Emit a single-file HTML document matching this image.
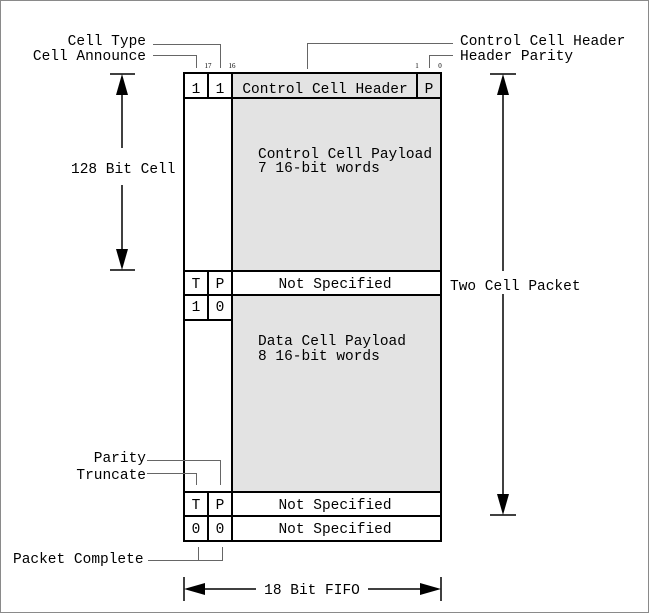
<!DOCTYPE html>
<html>
<head>
<meta charset="utf-8">
<style>
html,body{margin:0;padding:0;background:#fff;}
svg{display:block;}
text{font-family:"Liberation Mono","DejaVu Sans Mono",monospace;font-size:14.5px;fill:#000;}
.s{font-size:7px;font-family:"Liberation Serif",serif;}
</style>
</head>
<body>
<svg width="650" height="614" viewBox="0 0 650 614" xmlns="http://www.w3.org/2000/svg">
<rect x="0.5" y="0.5" width="648" height="612" fill="#fff" stroke="#8a8a8a" stroke-width="1"/>

<!-- gray fills -->
<rect x="232" y="73" width="209" height="198" fill="#e3e3e3"/>
<rect x="232" y="295" width="209" height="197" fill="#e3e3e3"/>

<!-- box structure -->
<g stroke="#000" stroke-width="2" fill="none">
<rect x="184" y="73" width="257" height="468"/>
<line x1="184" y1="98" x2="441" y2="98"/>
<line x1="184" y1="271" x2="441" y2="271"/>
<line x1="184" y1="295" x2="441" y2="295"/>
<line x1="184" y1="320" x2="232" y2="320"/>
<line x1="184" y1="492" x2="441" y2="492"/>
<line x1="184" y1="516" x2="441" y2="516"/>
<line x1="208" y1="73" x2="208" y2="98"/>
<line x1="208" y1="271" x2="208" y2="320"/>
<line x1="208" y1="492" x2="208" y2="541"/>
<line x1="232" y1="73" x2="232" y2="541"/>
<line x1="417" y1="73" x2="417" y2="98"/>
</g>

<!-- cell text -->
<text x="196" y="93" text-anchor="middle">1</text>
<text x="220" y="93" text-anchor="middle">1</text>
<text x="325" y="93" text-anchor="middle">Control Cell Header</text>
<text x="429" y="93" text-anchor="middle">P</text>

<text x="258" y="158">Control Cell Payload</text>
<text x="258" y="172">7 16-bit words</text>

<text x="196" y="288" text-anchor="middle">T</text>
<text x="220" y="288" text-anchor="middle">P</text>
<text x="335" y="288" text-anchor="middle">Not Specified</text>
<text x="196" y="311" text-anchor="middle">1</text>
<text x="220" y="311" text-anchor="middle">0</text>

<text x="258" y="345">Data Cell Payload</text>
<text x="258" y="360">8 16-bit words</text>

<text x="196" y="509" text-anchor="middle">T</text>
<text x="220" y="509" text-anchor="middle">P</text>
<text x="335" y="509" text-anchor="middle">Not Specified</text>
<text x="196" y="533" text-anchor="middle">0</text>
<text x="220" y="533" text-anchor="middle">0</text>
<text x="335" y="533" text-anchor="middle">Not Specified</text>

<!-- bit numbers -->
<text class="s" x="208" y="68" text-anchor="middle">17</text>
<text class="s" x="232" y="68" text-anchor="middle">16</text>
<text class="s" x="417" y="68" text-anchor="middle">1</text>
<text class="s" x="440" y="68" text-anchor="middle">0</text>

<!-- leader lines -->
<g stroke="#666" stroke-width="1" fill="none">
<polyline points="153,44.5 220.5,44.5 220.5,68"/>
<polyline points="153,55.5 196.5,55.5 196.5,68"/>
<polyline points="307.5,69 307.5,43.5 453,43.5"/>
<polyline points="429.5,68 429.5,55.5 453,55.5"/>
<polyline points="147,460.5 220.5,460.5 220.5,485"/>
<polyline points="147,473.5 196.5,473.5 196.5,485"/>
<polyline points="148,560.5 222.5,560.5 222.5,547"/>
<line x1="198.5" y1="547" x2="198.5" y2="560"/>
</g>

<text x="146" y="45" text-anchor="end">Cell Type</text>
<text x="146" y="60" text-anchor="end">Cell Announce</text>
<text x="460" y="45">Control Cell Header</text>
<text x="460" y="60">Header Parity</text>
<text x="146" y="462" text-anchor="end">Parity</text>
<text x="146" y="479" text-anchor="end">Truncate</text>
<text x="13" y="563">Packet Complete</text>

<!-- left dimension arrow: 128 Bit Cell -->
<g stroke="#000" stroke-width="1.5" fill="none">
<line x1="110" y1="74" x2="135" y2="74"/>
<line x1="110" y1="270" x2="135" y2="270"/>
<line x1="122" y1="90" x2="122" y2="148"/>
<line x1="122" y1="185" x2="122" y2="254"/>
</g>
<polygon points="122,74 116,95 128,95" fill="#000"/>
<polygon points="122,270 116,249 128,249" fill="#000"/>
<text x="71" y="173">128 Bit Cell</text>

<!-- right dimension arrow: Two Cell Packet -->
<g stroke="#000" stroke-width="1.5" fill="none">
<line x1="490" y1="74" x2="516" y2="74"/>
<line x1="490" y1="515" x2="516" y2="515"/>
<line x1="503" y1="90" x2="503" y2="271"/>
<line x1="503" y1="294" x2="503" y2="499"/>
</g>
<polygon points="503,74 497,95 509,95" fill="#000"/>
<polygon points="503,515 497,494 509,494" fill="#000"/>
<text x="450" y="290">Two Cell Packet</text>

<!-- bottom dimension arrow: 18 Bit FIFO -->
<g stroke="#000" stroke-width="1.5" fill="none">
<line x1="184" y1="577" x2="184" y2="601"/>
<line x1="441" y1="577" x2="441" y2="601"/>
<line x1="200" y1="589" x2="256" y2="589"/>
<line x1="368" y1="589" x2="425" y2="589"/>
</g>
<polygon points="184,589 205,583 205,595" fill="#000"/>
<polygon points="441,589 420,583 420,595" fill="#000"/>
<text x="312" y="594" text-anchor="middle">18 Bit FIFO</text>
</svg>
</body>
</html>
